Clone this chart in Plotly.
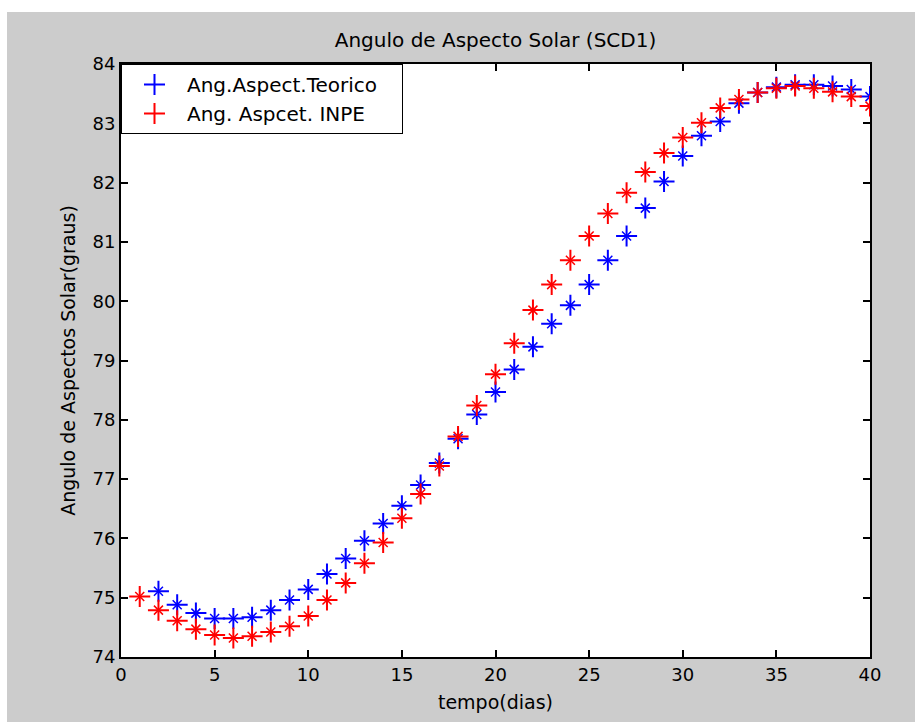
import plotly.graph_objects as go

dias = list(range(1, 41))

teorico = [None, 75.11, 74.88, 74.74, 74.65, 74.65, 74.67, 74.79, 74.96, 75.14,
           75.40, 75.66, 75.96, 76.25, 76.55, 76.90, 77.27, 77.68, 78.09, 78.47,
           78.85, 79.23, 79.62, 79.93, 80.28, 80.69, 81.10, 81.57, 82.02, 82.45,
           82.79, 83.03, 83.34, 83.52, 83.61, 83.65, 83.65, 83.63, 83.57, 83.45]

inpe = [75.02, 74.79, 74.61, 74.47, 74.37, 74.32, 74.35, 74.42, 74.52, 74.69,
        74.96, 75.25, 75.58, 75.93, 76.34, 76.75, 77.22, 77.72, 78.24, 78.77,
        79.29, 79.85, 80.28, 80.69, 81.10, 81.48, 81.83, 82.18, 82.50, 82.76,
        83.01, 83.26, 83.40, 83.52, 83.59, 83.63, 83.59, 83.53, 83.45, 83.29]

x_ticks = [0, 5, 10, 15, 20, 25, 30, 35, 40]
y_ticks = [74, 75, 76, 77, 78, 79, 80, 81, 82, 83, 84]

FONT = "DejaVu Sans"
PAD = "\u00a0\u00a0\u00a0"

fig = go.Figure()


def add_series(yvals, name, color):
    fig.add_trace(go.Scatter(
        x=dias, y=yvals, mode="markers", name=name + PAD, legendgroup=name,
        marker=dict(symbol="cross-thin-open", size=15, color=color,
                    line=dict(color=color, width=2)),
    ))
    fig.add_trace(go.Scatter(
        x=dias, y=yvals, mode="markers", name=name, legendgroup=name,
        showlegend=False, hoverinfo="skip",
        marker=dict(symbol="x-thin-open", size=9, color=color,
                    line=dict(color=color, width=1.5)),
    ))


add_series(teorico, "Ang.Aspect.Teorico", "#0000ff")
add_series(inpe, "Ang. Aspcet. INPE", "#ff0000")

axis_common = dict(
    showgrid=False, zeroline=False, showline=True, linecolor="black",
    linewidth=2, mirror="ticks", ticks="inside", ticklen=7, tickwidth=1.5,
    tickcolor="black", tickfont=dict(family=FONT, size=18, color="black"),
)

fig.update_layout(
    width=915, height=722,
    margin=dict(l=121, r=45, t=64, b=65),
    paper_bgcolor="#cccccc", plot_bgcolor="white",
    font=dict(family=FONT, color="black"),
    title=dict(text="Angulo de Aspecto Solar (SCD1)", x=0.5, xref="paper",
               xanchor="center", y=1 - 40 / 722, yanchor="middle",
               font=dict(family=FONT, size=20, color="black")),
    xaxis=dict(range=[0, 40], tickvals=x_ticks,
               title=dict(text="tempo(dias)", standoff=12,
                          font=dict(family=FONT, size=19, color="black")),
               **axis_common),
    yaxis=dict(range=[74, 84], tickvals=y_ticks,
               title=dict(text="Angulo de Aspectos Solar(graus)", standoff=12,
                          font=dict(family=FONT, size=19, color="black")),
               **axis_common),
    legend=dict(x=0.0, y=1.0, xanchor="left", yanchor="top",
                bgcolor="white", bordercolor="black", borderwidth=1,
                font=dict(family=FONT, size=20, color="black"),
                itemwidth=55, tracegroupgap=0),
    showlegend=True,
    shapes=[
        dict(type="rect", xref="paper", yref="paper", layer="above",
             x0=-0.2, x1=1.1, y0=(657 - 12) / 593, y1=1.2,
             fillcolor="white", line=dict(width=0)),
        dict(type="rect", xref="paper", yref="paper", layer="above",
             x0=-0.2, x1=(7 - 121) / 749, y0=-0.2, y1=1.2,
             fillcolor="white", line=dict(width=0)),
    ],
)

fig.write_html("out.html")
